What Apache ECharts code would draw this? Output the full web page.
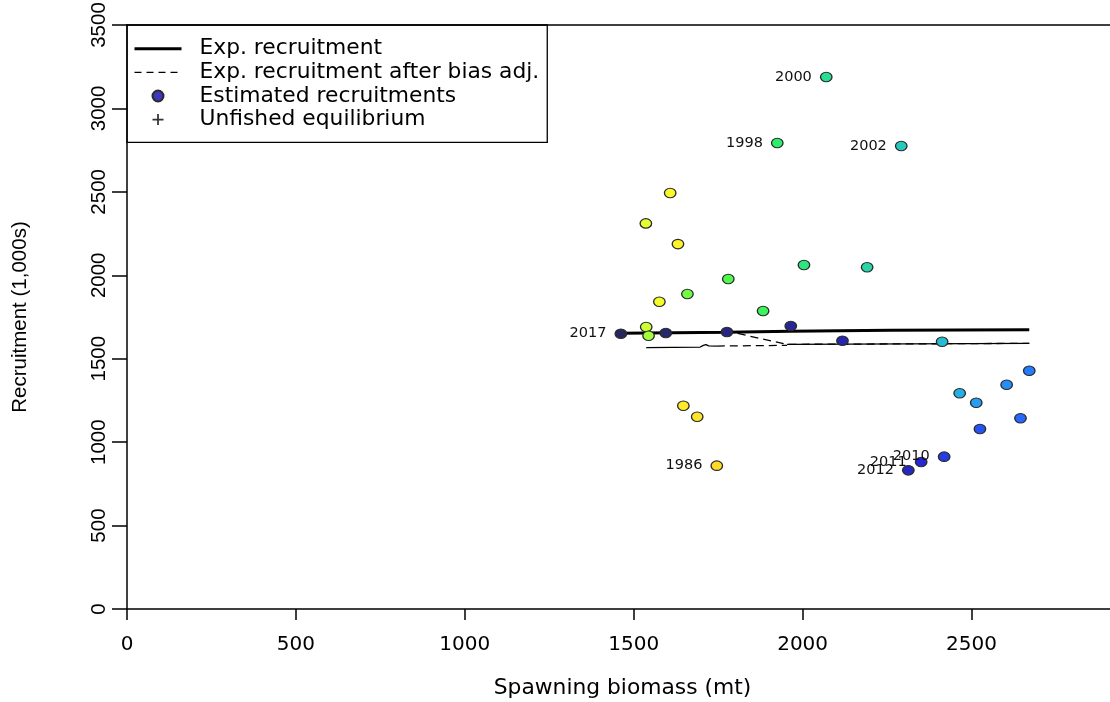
<!DOCTYPE html>
<html>
<head>
<meta charset="utf-8">
<script src="https://cdn.jsdelivr.net/npm/echarts@6/dist/echarts.min.js"></script>
<style>
  html, body { margin: 0; padding: 0; background: #fff; }
  #chart { width: 1110px; height: 702px; }
</style>
</head>
<body>
<div id="chart"></div>
<script>
// estimated recruitments, one per year
var years = [1986, 1987, 1988, 1989, 1990, 1991, 1992, 1993, 1994, 1995, 1996,
  1997, 1998, 1999, 2000, 2001, 2002, 2003, 2004, 2005, 2006, 2007, 2008, 2009,
  2010, 2011, 2012, 2013, 2014, 2015, 2016, 2017];
var spawningBiomass = [1746, 1688, 1647, 1631, 1608, 1576, 1536, 1537, 1544, 1659, 1780,
  1883, 1925, 2004, 2070, 2191, 2292, 2413, 2465, 2514, 2604, 2671, 2645, 2525,
  2419, 2351, 2313, 2118, 1965, 1776, 1595, 1462];
var recruitment = [859, 1152, 1218, 2187, 2493, 1841, 2311, 1690, 1638, 1888, 1978,
  1786, 2793, 2062, 3188, 2048, 2775, 1602, 1293, 1236, 1344, 1428, 1143, 1079,
  913, 881, 831, 1608, 1696, 1660, 1654, 1650];
var labelledYears = [1986, 1998, 2000, 2002, 2010, 2011, 2012, 2017];

// expected recruitment curve
var expSsb = [1462, 1776, 1963, 2259, 2671];
var expRecr = [1652, 1658, 1664, 1670, 1674];

// expected recruitment after bias adjustment
var biasSsb = [1462, 1795, 1954, 2671];
var biasRecr = [1652, 1657, 1586, 1592];

// lower thin line
var lowSsbA = [1537, 1697, 1706, 1714, 1722, 1746];
var lowRecrA = [1566, 1570, 1580, 1584, 1577, 1576];
var lowSsbDash = [1746, 1954];
var lowRecrDash = [1576, 1580];
var lowSsbB = [1954, 2671];
var lowRecrB = [1586, 1592];

var xTicks = [0, 500, 1000, 1500, 2000, 2500];
var yTicks = [0, 500, 1000, 1500, 2000, 2500, 3000, 3500];

var legendNames = ['Exp. recruitment', 'Exp. recruitment after bias adj.',
  'Estimated recruitments', 'Unfished equilibrium'];

function pairs(xs, ys) {
  return xs.map(function (x, i) { return [x, ys[i]]; });
}

// rich colours, dark navy for the last year to yellow for the first
function yearColor(yr) {
  var t = (2017 - yr) * 0.0252;
  var r = 1 / (1 + Math.exp(20 - 35 * t));
  var g = Math.min(Math.max(0, -0.8 + 6 * t - 5 * t * t), 1);
  var b = Math.exp(-0.5 * Math.pow((t - 0.25) / 0.15, 2));
  var a = 0.85;
  var c = [r, g, b].map(function (v) { return Math.round((v * a + (1 - a)) * 255); });
  return 'rgb(' + c.join(',') + ')';
}

var chart = echarts.init(document.getElementById('chart'), null, { renderer: 'canvas' });

var pointData = years.map(function (yr, i) {
  return {
    name: String(yr),
    value: [spawningBiomass[i], recruitment[i]],
    itemStyle: { color: yearColor(yr) },
    label: { show: labelledYears.indexOf(yr) >= 0 }
  };
});

var thin = { color: '#000', width: 1.3 };
var noDot = { color: 'rgba(0,0,0,0)', borderWidth: 0, opacity: 0 };

var option = {
  animation: false,
  backgroundColor: '#fff',
  grid: { left: 127, top: 25, right: 0, bottom: 93, outerBoundsMode: 'none', containLabel: false },
  legend: {
    data: [
      { name: legendNames[0], itemStyle: noDot, lineStyle: { width: 3, color: '#000' } },
      { name: legendNames[1], itemStyle: noDot, lineStyle: { width: 1.3, color: '#000', type: [7, 5] } },
      { name: legendNames[2] },
      { name: legendNames[3] }
    ],
    orient: 'vertical',
    left: 127,
    top: 25,
    padding: [12, 8, 11, 6],
    itemGap: 0,
    itemWidth: 47,
    itemHeight: 11,
    borderColor: '#000',
    borderWidth: 1.3,
    selectedMode: false,
    textStyle: {
      fontFamily: 'DejaVu Sans',
      fontSize: 21.8,
      color: '#000',
      lineHeight: 23.6,
      padding: [0, 0, 0, 13]
    }
  },
  xAxis: [{
    type: 'value',
    min: 0,
    max: 2910,
    name: 'Spawning biomass (mt)',
    nameLocation: 'middle',
    nameGap: 68,
    nameTextStyle: { fontFamily: 'DejaVu Sans', fontSize: 21.8, color: '#000', padding: [0, 0, 0, 8] },
    axisLine: { lineStyle: { color: '#000', width: 1.5 } },
    axisTick: { length: 11, lineStyle: { color: '#000', width: 1.5 }, customValues: xTicks },
    axisLabel: {
      fontFamily: 'DejaVu Sans', fontSize: 20, color: '#000', margin: 26,
      customValues: xTicks,
      formatter: function (v) { return String(v); }
    },
    splitLine: { show: false }
  }, {
    type: 'value',
    position: 'top',
    min: 0,
    max: 2910,
    axisLine: { show: true, lineStyle: { color: '#000', width: 1.5 } },
    axisTick: { show: false },
    axisLabel: { show: false },
    splitLine: { show: false }
  }],
  yAxis: {
    type: 'value',
    min: 0,
    max: 3500,
    interval: 500,
    name: 'Recruitment (1,000s)',
    nameLocation: 'middle',
    nameGap: 96,
    nameTextStyle: { fontFamily: 'Liberation Sans', fontSize: 20.5, color: '#000' },
    axisLine: { show: true, lineStyle: { color: '#000', width: 1.5 } },
    axisTick: { show: true, length: 15, lineStyle: { color: '#000', width: 1.5 } },
    axisLabel: {
      rotate: 90, fontFamily: 'Liberation Sans', fontSize: 20.5, color: '#000', margin: 17,
      customValues: yTicks,
      formatter: function (v) { return String(v); }
    },
    splitLine: { show: false }
  },
  series: [
    {
      name: 'Exp. recruitment',
      type: 'line',
      data: pairs(expSsb, expRecr),
      symbol: 'none',
      lineStyle: { color: '#000', width: 3 },
      itemStyle: { color: '#000' },
      z: 3
    },
    {
      name: 'Exp. recruitment after bias adj.',
      type: 'line',
      data: pairs(biasSsb, biasRecr),
      symbol: 'none',
      lineStyle: { color: '#000', width: 1.3, type: [8, 5] },
      itemStyle: { color: '#000' },
      z: 2
    },
    {
      name: 'lowA',
      type: 'line',
      data: pairs(lowSsbA, lowRecrA),
      symbol: 'none',
      lineStyle: thin,
      z: 2
    },
    {
      name: 'lowDash',
      type: 'line',
      data: pairs(lowSsbDash, lowRecrDash),
      symbol: 'none',
      lineStyle: { color: '#000', width: 1.3, type: [8, 5] },
      z: 2
    },
    {
      name: 'lowB',
      type: 'line',
      data: pairs(lowSsbB, lowRecrB),
      symbol: 'none',
      lineStyle: thin,
      z: 2
    },
    {
      name: 'Estimated recruitments',
      type: 'scatter',
      data: pointData,
      symbol: 'circle',
      symbolSize: [11.5, 9.5],
      symbolKeepAspect: true,
      itemStyle: { color: '#3a3ab8', borderColor: '#2a2a2a', borderWidth: 1.2, opacity: 1 },
      label: {
        position: 'left',
        distance: 8,
        formatter: '{b}',
        fontFamily: 'DejaVu Sans',
        fontSize: 14.5,
        color: '#111'
      },
      z: 5
    },
    {
      name: 'Unfished equilibrium',
      type: 'scatter',
      data: [],
      symbol: 'path://M4.2,0h1.6v4.2h4.2v1.6h-4.2v4.2h-1.6v-4.2h-4.2v-1.6h4.2z',
      symbolKeepAspect: true,
      symbolSize: 13,
      itemStyle: { color: '#000' },
      z: 5
    }
  ]
};

chart.setOption(option);
</script>
</body>
</html>
